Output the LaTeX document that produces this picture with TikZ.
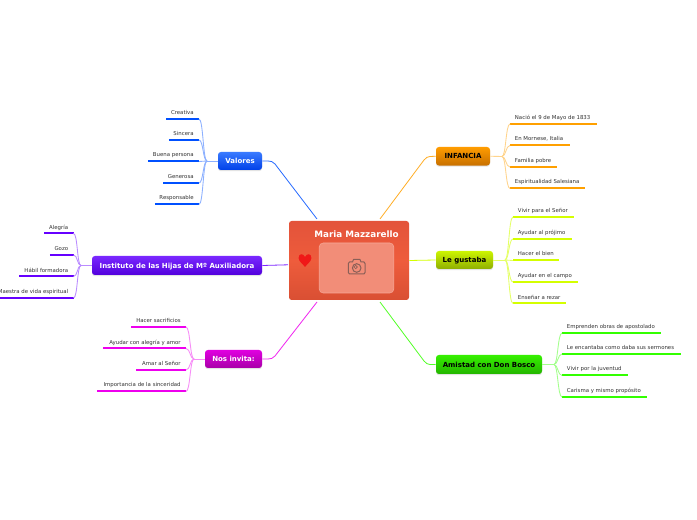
\documentclass[tikz,border=0pt]{standalone}
\usepackage{fontspec}
\setmainfont{DejaVu Sans}
\usetikzlibrary{shadows}
\newdimen\pxu \pxu=0.75pt
\definecolor{cblue}{HTML}{0050FF}
\definecolor{corange}{HTML}{FFA000}
\definecolor{cyellow}{HTML}{D4FF00}
\definecolor{cgreen}{HTML}{33FF00}
\definecolor{cpurple}{HTML}{6600FF}
\definecolor{cmagenta}{HTML}{EE00EE}
\definecolor{rtop}{HTML}{E3533A}
\definecolor{rmid}{HTML}{EE5C3C}
\definecolor{rbot}{HTML}{D94F33}
\definecolor{photofill}{HTML}{F28D78}
\definecolor{photoline}{HTML}{F5A898}
\definecolor{heartred}{HTML}{F01818}
\definecolor{camcol}{HTML}{8A5F57}
\definecolor{otop}{HTML}{FF9C00}\definecolor{obot}{HTML}{C87000}
\definecolor{ytop}{HTML}{CCF500}\definecolor{ybot}{HTML}{8FAE00}
\definecolor{gtop}{HTML}{36F000}\definecolor{gbot}{HTML}{24B500}
\definecolor{btop}{HTML}{3A7BFF}\definecolor{bbot}{HTML}{0040E8}
\definecolor{ptop}{HTML}{7A28FF}\definecolor{pbot}{HTML}{5200DC}
\definecolor{mtop}{HTML}{E000E0}\definecolor{mbot}{HTML}{A800A8}
\tikzset{
  x=0.75pt,y=-0.75pt,
  branchbox/.style={rounded corners=2.2pt,inner sep=0pt,text height=5pt,text depth=1.2pt,drop shadow={opacity=0.22,shadow xshift=0pt,shadow yshift=-0.9pt},font=\fontsize{5.25pt}{6pt}\selectfont\bfseries},
  leafnode/.style={inner sep=0pt,minimum height=8.6pt,font=\fontsize{4.05pt}{5pt}\selectfont,text=black!80},
  bar/.style={line width=1.5pt},
  twig/.style={line width=0.65pt},
  trunk/.style={line width=0.6pt},
}
\newcommand{\leafR}[6]{%
  \node[leafnode,anchor=south west] (#1) at (#2,#4) {\hbox to \dimexpr#3\pxu-#2\pxu-0.6pt\relax{\hspace{3.5pt}\vphantom{Ayg}#6\hfil}};
  \draw[bar,#5] (#1.south west) -- (#1.south east);
}
\newcommand{\leafL}[6]{%
  \node[leafnode,anchor=south east] (#1) at (#3,#4) {\hbox to \dimexpr#3\pxu-#2\pxu-0.6pt\relax{\hfil\vphantom{Ayg}#6\hspace{3.8pt}}};
  \draw[bar,#5] (#1.south west) -- (#1.south east);
}
\newcommand{\twigR}[3]{\draw[twig,#3] (#1) .. controls ([xshift=3pt]#1) and ([xshift=-3.2pt]#2.south west) .. (#2.south west);}
\newcommand{\twigL}[3]{\draw[twig,#3] (#1) .. controls ([xshift=-3pt]#1) and ([xshift=3.2pt]#2.south east) .. (#2.south east);}
\begin{document}
\begin{tikzpicture}
\useasboundingbox (0,0) rectangle (697,520);
\fill[white] (0,0) rectangle (697,520);

% centre
\node[rounded corners=2pt,minimum width=90pt,minimum height=59.25pt,inner sep=0pt,
  top color=rtop,bottom color=rbot,middle color=rmid] (centre) at (349,260.5) {};
\node[anchor=base,text=white,font=\fontsize{6.6pt}{8pt}\selectfont\bfseries] (title) at (356.5,237.8) {Maria Mazzarello};
\node[rounded corners=3pt,minimum width=56pt,minimum height=37.5pt,inner sep=0pt,fill=photofill,draw=photoline,line width=0.4pt] (photo) at (356.5,268) {};
\fill[heartred] (305,257) .. controls (303,252.8) and (298.6,253.5) .. (298.6,258) .. controls (298.6,261.5) and (303,264) .. (305,267) .. controls (307,264) and (311.4,261.5) .. (311.4,258) .. controls (311.4,253.5) and (307,252.8) .. (305,257) -- cycle;
\draw[camcol,line width=0.75pt,line join=round] (349.5,262) -- (352.5,262) -- (353.5,259.5) -- (360,259.5) -- (361,262) -- (364,262) .. controls (365,262) and (365,262.5) .. (365,263.5) -- (365,272.5) .. controls (365,273.5) and (365,274) .. (364,274) -- (349.5,274) .. controls (348.5,274) and (348.3,273.5) .. (348.3,272.5) -- (348.3,263.5) .. controls (348.3,262.5) and (348.5,262) .. (349.5,262) -- cycle;
\draw[camcol,line width=0.75pt] (356.7,268) circle (4.3);
\draw[camcol,line width=0.5pt] (355.7,267) circle (1.7);

% branches
\node[branchbox,text=black,minimum width=40.5pt,minimum height=13.9pt,top color=otop,bottom color=obot] (inf) at (463,156.25) {INFANCIA};
\node[branchbox,text=black,minimum width=42.75pt,minimum height=13.5pt,top color=ytop,bottom color=ybot] (gus) at (464.5,260) {Le gustaba};
\node[branchbox,text=black,minimum width=79.5pt,minimum height=14.25pt,top color=gtop,bottom color=gbot] (ami) at (489,364.5) {Amistad con Don Bosco};
\node[branchbox,text=white,minimum width=33pt,minimum height=13.5pt,top color=btop,bottom color=bbot] (val) at (240,161) {Valores};
\node[branchbox,text=white,minimum width=127.5pt,minimum height=14.25pt,top color=ptop,bottom color=pbot] (ins) at (177,265.5) {Instituto de las Hijas de Mº Auxiliadora};
\node[branchbox,text=white,minimum width=42.75pt,minimum height=13.5pt,top color=mtop,bottom color=mbot] (nos) at (233.5,359) {Nos invita:};

% trunks
\coordinate (cTR) at (380,219);
\coordinate (cBR) at (380,302);
\coordinate (cTL) at (317,219);
\coordinate (cBL) at (317,302);
\coordinate (cWest) at (288,264.8);
\draw[trunk,corange!85] (cTR) -- (424,160) .. controls (426,157.5) and (428,156.5) .. (430,156.5) -- (inf.west);
\draw[trunk,cyellow] (centre.east) -- (gus.west);
\draw[trunk,cgreen!85] (cBR) -- (424,361) .. controls (426,363.5) and (428,364.5) .. (430,364.5) -- (ami.west);
\draw[trunk,cblue!85] (cTL) -- (275,164) .. controls (272.5,161.5) and (271,161) .. (268,161) -- (val.east);
\draw[trunk,cpurple!85] (cWest) -- (ins.east);
\draw[trunk,cmagenta!85] (cBL) -- (275,356) .. controls (272.5,358.5) and (271,359) .. (268,359) -- (nos.east);

% INFANCIA leaves
\leafR{i1}{510}{597}{124}{corange}{Nació el 9 de Mayo de 1833}
\leafR{i2}{510}{570}{145.5}{corange}{En Mornese, Italia}
\leafR{i3}{510}{557}{167}{corange}{Familia pobre}
\leafR{i4}{510}{585}{188.5}{corange}{Espiritualidad Salesiana}
\coordinate (ih) at (502,156.5);
\draw[twig,corange!45] (inf.east) -- (ih);
\foreach \n in {i1,i2,i3,i4}{\twigR{ih}{\n}{corange!45}}

% Le gustaba leaves
\leafR{g1}{513}{574}{217}{cyellow}{Vivir para el Señor}
\leafR{g2}{513}{572}{239}{cyellow}{Ayudar al prójimo}
\leafR{g3}{513}{559}{260.5}{cyellow}{Hacer el bien}
\leafR{g4}{513}{578}{282}{cyellow}{Ayudar en el campo}
\leafR{g5}{513}{566}{303.5}{cyellow}{Enseñar a rezar}
\coordinate (gh) at (505,260);
\draw[twig,cyellow!60] (gus.east) -- (gh);
\foreach \n in {g1,g2,g3,g4,g5}{\twigR{gh}{\n}{cyellow!60}}

% Amistad leaves
\leafR{a1}{562}{661}{333}{cgreen}{Emprenden obras de apostolado}
\leafR{a2}{562}{681}{354}{cgreen}{Le encantaba como daba sus sermones}
\leafR{a3}{562}{628}{375.5}{cgreen}{Vivir por la juventud}
\leafR{a4}{562}{647}{397}{cgreen}{Carisma y mismo propósito}
\coordinate (ah) at (554,364.5);
\draw[twig,cgreen!45] (ami.east) -- (ah);
\foreach \n in {a1,a2,a3,a4}{\twigR{ah}{\n}{cgreen!45}}

% Valores leaves
\leafL{v1}{166}{199}{119}{cblue}{Creativa}
\leafL{v2}{168.5}{199}{140}{cblue}{Sincera}
\leafL{v3}{147.5}{199}{161.5}{cblue}{Buena persona}
\leafL{v4}{163}{199}{183}{cblue}{Generosa}
\leafL{v5}{154.5}{199}{204.5}{cblue}{Responsable}
\coordinate (vh) at (207,161);
\draw[twig,cblue!45] (val.west) -- (vh);
\foreach \n in {v1,v2,v3,v4,v5}{\twigL{vh}{\n}{cblue!45}}

% Instituto leaves
\leafL{s1}{44}{73.5}{233.5}{cpurple}{Alegría}
\leafL{s2}{49.5}{73.5}{255}{cpurple}{Gozo}
\leafL{s3}{19}{73.5}{276.5}{cpurple}{Hábil formadora}
\leafL{s4}{-3}{73.5}{298}{cpurple}{Maestra de vida espiritual}
\coordinate (sh) at (81,265.5);
\draw[twig,cpurple!45] (ins.west) -- (sh);
\foreach \n in {s1,s2,s3,s4}{\twigL{sh}{\n}{cpurple!45}}

% Nos invita leaves
\leafL{n1}{131}{186}{327}{cmagenta}{Hacer sacrificios}
\leafL{n2}{103}{186}{348.5}{cmagenta}{Ayudar con alegría y amor}
\leafL{n3}{136}{186}{370}{cmagenta}{Amar al Señor}
\leafL{n4}{97}{186}{391.5}{cmagenta}{Importancia de la sinceridad}
\coordinate (nh) at (194,359);
\draw[twig,cmagenta!45] (nos.west) -- (nh);
\foreach \n in {n1,n2,n3,n4}{\twigL{nh}{\n}{cmagenta!45}}
\end{tikzpicture}
\end{document}
